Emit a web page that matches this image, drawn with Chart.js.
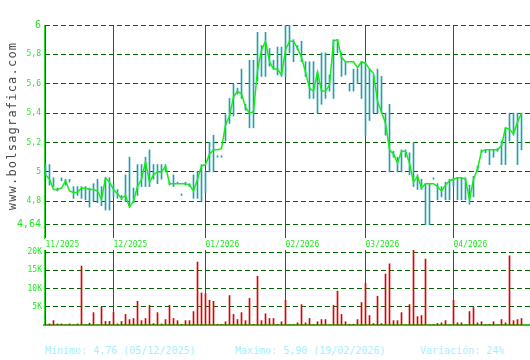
<!DOCTYPE html>
<html>
<head>
<meta charset="utf-8">
<script src="https://cdn.jsdelivr.net/npm/chart.js@4.4.1/dist/chart.umd.min.js"></script>
<style>
  body { margin: 0; background: #fff; }
  #wrap { position: relative; width: 530px; height: 360px; overflow: hidden; }
  canvas { position: absolute; left: 0; }
  #price { top: 0; }
  #volume { top: 240px; }
  .mark { position: absolute; left: -87px; top: 118px; width: 200px; height: 16px; line-height: 16px;
          text-align: center; transform: rotate(-90deg); font: 12px "DejaVu Sans Mono", monospace;
          letter-spacing: 1.2px; color: #4a4a4a; white-space: nowrap; }
  .foot { position: absolute; top: 345px; line-height: 12px; font: 10px "DejaVu Sans Mono", monospace;
          color: #a8eeff; white-space: nowrap; }
</style>
</head>
<body>
<div id="wrap">
  <canvas id="price" width="530" height="250"></canvas>
  <canvas id="volume" width="530" height="90"></canvas>
  <div class="mark">www.bolsagrafica.com</div>
  <div class="foot" style="left:45px">Minimo: 4,76 (05/12/2025)</div>
  <div class="foot" style="left:235px">Maximo: 5,90 (19/02/2026)</div>
  <div class="foot" style="left:420px">Variación: 24%</div>
</div>
<script>
// trading days 0..119, month starts at these indices
const monthTicks = [0, 17, 40, 60, 80, 102];
const monthLabels = ['11/2025', '12/2025', '01/2026', '02/2026', '03/2026', '04/2026'];
const priceTicks = [4.64, 4.8, 5, 5.2, 5.4, 5.6, 5.8, 6];
const volumeTicks = [5, 10, 15, 20];
const volumeLabels = ['5K', '10K', '15K', '20K'];

const closes = [
  4.98, 4.95, 4.88, 4.88, 4.89, 4.94, 4.87, 4.86, 4.86, 4.89,
  4.89, 4.88, 4.88, 4.87, 4.81, 4.96, 4.93, 4.88, 4.85, 4.82,
  4.84, 4.76, 4.80, 4.90, 4.95, 5.07, 4.93, 4.98, 5.00, 5.00,
  5.04, 4.92, 4.92, 4.92, 4.92, 4.92, 4.91, 4.87, 4.95, 5.04,
  5.05, 5.12, 5.15, 5.15, 5.16, 5.32, 5.38, 5.51, 5.55, 5.53,
  5.44, 5.40, 5.41, 5.69, 5.83, 5.89, 5.75, 5.70, 5.70, 5.66,
  5.83, 5.89, 5.89, 5.84, 5.78, 5.68, 5.57, 5.55, 5.68, 5.55,
  5.55, 5.59, 5.89, 5.90, 5.78, 5.75, 5.75, 5.75, 5.71, 5.75,
  5.74, 5.70, 5.67, 5.48, 5.41, 5.33, 5.15, 5.12, 5.06, 5.14,
  5.14, 5.06, 4.93, 4.97, 4.89, 4.92, 4.92, 4.92, 4.90, 4.87,
  4.91, 4.94, 4.95, 4.96, 4.96, 4.95, 4.81, 4.95, 5.02, 5.14,
  5.15, 5.15, 5.15, 5.15, 5.18, 5.30, 5.29, 5.26, 5.34, 5.40
];
const highs = [
  5.05, 5.05, 4.96, 4.89, 4.96, 4.95, 4.95, 4.90, 4.90, 4.90,
  4.90, 4.89, 4.92, 4.95, 4.90, 4.96, 4.96, 4.92, 4.88, 4.84,
  4.98, 5.10, 4.89, 5.05, 5.05, 5.10, 5.15, 5.05, 5.05, 5.05,
  5.05, 4.93, 4.98, 4.93, 4.85, 4.93, 4.92, 4.98, 5.00, 5.05,
  5.00, 5.20, 5.25, 5.11, 5.11, 5.39, 5.50, 5.60, 5.57, 5.70,
  5.46, 5.76, 5.76, 5.95, 5.86, 5.95, 5.84, 5.76, 5.85, 5.85,
  6.00, 6.00, 5.90, 5.86, 5.89, 5.75, 5.75, 5.75, 5.68, 5.81,
  5.81, 5.66, 5.90, 5.90, 5.81, 5.75, 5.60, 5.70, 5.70, 5.75,
  5.75, 5.70, 5.66, 5.70, 5.65, 5.40, 5.46, 5.14, 5.10, 5.15,
  5.15, 5.13, 5.20, 4.98, 4.95, 4.92, 4.92, 4.96, 4.92, 4.90,
  4.93, 4.95, 4.96, 4.96, 4.96, 4.96, 4.91, 4.97, 5.04, 5.15,
  5.15, 5.15, 5.15, 5.16, 5.21, 5.30, 5.40, 5.40, 5.40, 5.40
];
const lows = [
  4.98, 4.91, 4.90, 4.87, 4.94, 4.91, 4.93, 4.82, 4.84, 4.82,
  4.81, 4.76, 4.80, 4.79, 4.77, 4.74, 4.74, 4.83, 4.82, 4.81,
  4.80, 4.77, 4.79, 4.84, 4.90, 4.90, 4.90, 4.95, 4.92, 4.95,
  5.00, 4.91, 4.90, 4.92, 4.84, 4.91, 4.90, 4.82, 4.82, 4.80,
  4.86, 5.00, 5.00, 5.10, 5.10, 5.21, 5.33, 5.38, 5.53, 5.50,
  5.42, 5.30, 5.30, 5.62, 5.65, 5.65, 5.72, 5.70, 5.66, 5.65,
  5.65, 5.81, 5.75, 5.83, 5.75, 5.65, 5.50, 5.50, 5.40, 5.46,
  5.50, 5.55, 5.50, 5.81, 5.65, 5.66, 5.55, 5.55, 5.60, 5.50,
  5.25, 5.35, 5.40, 5.40, 5.40, 5.25, 5.00, 5.10, 5.00, 5.00,
  5.10, 4.98, 4.90, 4.88, 4.88, 4.64, 4.64, 4.95, 4.81, 4.83,
  4.81, 4.81, 4.90, 4.81, 4.81, 4.81, 4.78, 4.83, 5.00, 5.13,
  5.13, 5.05, 5.10, 5.14, 5.05, 5.05, 5.21, 5.25, 5.05, 5.15
];
// volume in thousands of shares
const volumes = [
  0.3, 0.3, 1.2, 0.3, 0.3, 0.1, 0.3, 0.1, 0.3, 16.2,
  0.1, 0.5, 3.4, 0.1, 4.9, 1.0, 1.0, 3.5, 0.3, 1.0,
  2.9, 1.5, 1.8, 6.5, 1.2, 1.8, 5.4, 0.4, 3.4, 0.3,
  1.5, 5.4, 1.8, 1.2, 0.2, 1.2, 1.2, 3.7, 17.3, 8.8,
  8.6, 6.8, 6.5, 0.2, 0.2, 0.9, 8.1, 2.9, 1.5, 3.4,
  1.2, 7.3, 0.2, 13.4, 1.2, 3.1, 1.8, 1.8, 0.2, 0.9,
  6.8, 0.1, 0.1, 0.6, 5.6, 0.6, 1.8, 0.1, 0.9, 1.5,
  1.5, 0.1, 5.4, 9.3, 2.9, 0.9, 0.2, 0.2, 1.5, 6.2,
  11.4, 2.6, 0.4, 7.9, 0.4, 14.0, 16.8, 1.2, 1.2, 3.4,
  0.1, 5.6, 20.6, 2.3, 2.6, 18.1, 0.1, 0.1, 0.4, 0.6,
  1.2, 0.1, 6.8, 0.6, 0.6, 0.1, 3.7, 4.8, 0.6, 0.9,
  0.1, 0.2, 0.9, 0.1, 1.5, 0.6, 19.0, 1.2, 1.5, 1.8
];

const MONO = '"DejaVu Sans Mono", monospace';
const GREEN = '#1eea1e';
const DASH_GREEN = '#006600';
const MONTH_GREEN = '#007a00';
const DASH = [5, 3];

function monthAxis(showLabels) {
  return {
    type: 'linear', min: -0.375, max: 121.125, offset: false,
    afterBuildTicks: s => { s.ticks = monthTicks.map(v => ({ value: v })); },
    afterFit: s => { s.height = showLabels ? 12 : 0; s.paddingLeft = 0; s.paddingRight = 0; },
    grid: { color: MONTH_GREEN, lineWidth: 1, drawTicks: false, offset: false },
    border: { display: !showLabels, color: '#22cc22', width: 2 },
    ticks: {
      display: showLabels, autoSkip: false, maxRotation: 0, minRotation: 0, align: 'start',
      padding: 2, color: GREEN, font: { family: MONO, size: 8 },
      callback: (v, i) => monthLabels[i]
    }
  };
}

const bigTick = v => v === 6 || v === 4.64;

new Chart(document.getElementById('price'), {
  type: 'bar',
  data: {
    datasets: [
      {
        type: 'line', order: 0,
        data: closes.map((v, i) => ({ x: i, y: v })),
        borderColor: '#11ee11', borderWidth: 1.5, pointRadius: 0, tension: 0
      },
      {
        type: 'bar', order: 1,
        data: highs.map((h, i) => ({ x: i, y: [lows[i], Math.max(h, lows[i] + 0.01)] })),
        backgroundColor: '#22a0aa', barThickness: 1, borderWidth: 0
      }
    ]
  },
  options: {
    responsive: false, animation: false, devicePixelRatio: 1,
    layout: { padding: { top: 25, right: 0, bottom: 0, left: 0 } },
    plugins: { legend: { display: false }, tooltip: { enabled: false } },
    scales: {
      x: monthAxis(true),
      y: {
        min: 4.55, max: 6,
        afterBuildTicks: s => { s.ticks = priceTicks.map(v => ({ value: v })); },
        afterFit: s => { s.width = 44; s.paddingTop = 0; s.paddingBottom = 0; },
        grid: { color: DASH_GREEN, lineWidth: 1, drawTicks: false },
        border: { display: true, color: '#22dd22', width: 1, dash: DASH },
        ticks: {
          color: GREEN, padding: 3,
          font: ctx => ({ family: MONO, size: ctx.tick && bigTick(ctx.tick.value) ? 10 : 8 }),
          callback: v => String(v).replace('.', ',')
        }
      }
    }
  }
});

new Chart(document.getElementById('volume'), {
  type: 'bar',
  data: {
    datasets: [{
      data: volumes.map((v, i) => ({ x: i, y: v })),
      backgroundColor: '#e00000', barThickness: 1, borderWidth: 0
    }]
  },
  options: {
    responsive: false, animation: false, devicePixelRatio: 1,
    layout: { padding: { top: 10, right: 0, bottom: 5, left: 0 } },
    plugins: { legend: { display: false }, tooltip: { enabled: false } },
    scales: {
      x: monthAxis(false),
      y: {
        min: 0, max: 20.6,
        afterBuildTicks: s => { s.ticks = volumeTicks.map(v => ({ value: v })); },
        afterFit: s => { s.width = 44; s.paddingTop = 0; s.paddingBottom = 0; },
        grid: { color: DASH_GREEN, lineWidth: 1, drawTicks: false },
        border: { display: true, color: '#22dd22', width: 1, dash: DASH },
        ticks: {
          color: GREEN, padding: 2, font: { family: MONO, size: 8 },
          callback: (v, i) => volumeLabels[i]
        }
      }
    }
  }
});
</script>
</body>
</html>
